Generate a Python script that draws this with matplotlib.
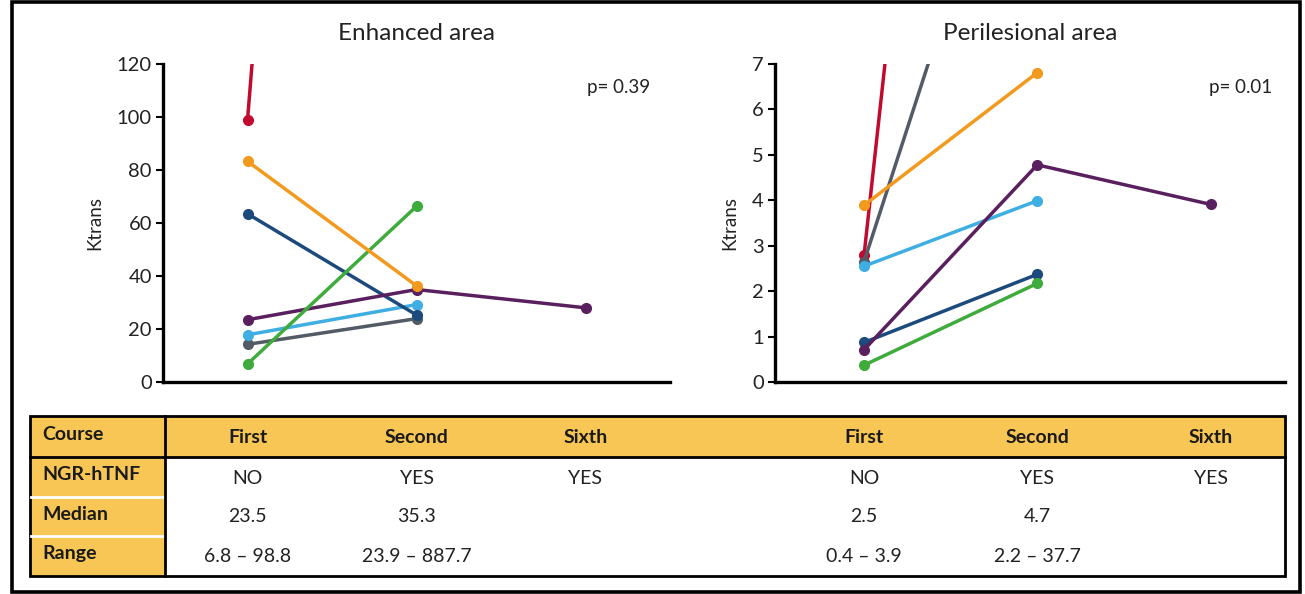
import matplotlib
matplotlib.use("Agg")
import matplotlib.pyplot as plt
import matplotlib.transforms as mtransforms
from matplotlib.patches import Rectangle
from matplotlib.lines import Line2D

plt.rcParams['font.family'] = ['Lato', 'DejaVu Sans']

# ---------------- data ----------------
courses = ["First", "Second", "Sixth"]
course_x = [1, 2, 3]

# Enhanced area (Ktrans)
enh_red = [98.8, 887.7]
enh_gray = [14.2, 23.9]
enh_lightblue = [17.8, 29.2]
enh_darkblue = [63.5, 25.3]
enh_purple = [23.5, 34.9, 28.0]
enh_green = [6.8, 66.3]
enh_orange = [83.3, 36.3]

# Perilesional area (Ktrans)
peri_red = [2.79, 37.7]
peri_gray = [2.65, 14.4]
peri_lightblue = [2.55, 3.99]
peri_darkblue = [0.87, 2.37]
peri_purple = [0.71, 4.78, 3.91]
peri_green = [0.37, 2.17]
peri_orange = [3.89, 6.81]

col_gray = "#535b66"
col_lightblue = "#3eaee3"
col_darkblue = "#1c4a7c"
col_purple = "#5a1f5e"
col_green = "#3fab3c"
col_orange = "#f29a1e"
col_red = "#c20a2e"

enh_ticks = [0, 20, 40, 60, 80, 100, 120]
peri_ticks = [0, 1, 2, 3, 4, 5, 6, 7]

row_labels = ["Course", "NGR-hTNF", "Median", "Range"]
ngr = ["NO", "YES", "YES"]
enh_median = ["23.5", "35.3", ""]
enh_range = ["6.8 \u2013 98.8", "23.9 \u2013 887.7", ""]
peri_median = ["2.5", "4.7", ""]
peri_range = ["0.4 \u2013 3.9", "2.2 \u2013 37.7", ""]

# ---------------- figure ----------------
W, H = 1305, 594
fig = plt.figure(figsize=(W / 100, H / 100), dpi=100)
fig.patch.set_facecolor("white")


def px_rect(x0, y0, x1, y1):
    return [x0 / W, 1 - y1 / H, (x1 - x0) / W, (y1 - y0) / H]


ax1 = fig.add_axes(px_rect(163, 64, 670, 382))
ax2 = fig.add_axes(px_rect(775, 64, 1285, 382))

enh_series = [(enh_red, col_red), (enh_gray, col_gray),
              (enh_lightblue, col_lightblue), (enh_darkblue, col_darkblue),
              (enh_purple, col_purple), (enh_green, col_green),
              (enh_orange, col_orange)]
peri_series = [(peri_red, col_red), (peri_gray, col_gray),
               (peri_lightblue, col_lightblue), (peri_darkblue, col_darkblue),
               (peri_purple, col_purple), (peri_green, col_green),
               (peri_orange, col_orange)]


def style_axis(ax, ticks, ylim, xlim, title, ptxt, px):
    ax.set_ylim(*ylim)
    ax.set_xlim(*xlim)
    ax.set_yticks(ticks)
    ax.set_xticks([])
    for s in ["top", "right"]:
        ax.spines[s].set_visible(False)
    for s in ["left", "bottom"]:
        ax.spines[s].set_linewidth(2.4)
        ax.spines[s].set_color("black")
    ax.tick_params(axis="y", direction="out", length=5, width=1.5,
                   labelsize=14.5, pad=3, labelcolor="#222222")
    ax.set_ylabel("Ktrans", fontsize=13.5, color="#222222", labelpad=10)
    ax.set_title(title, fontsize=17.5, color="#222222", pad=17)
    ax.text(px, 0.925, ptxt, transform=ax.transAxes, fontsize=13.5,
            ha="right", va="center", color="#222222")


for vals, c in enh_series:
    ax1.plot(course_x[:len(vals)], vals, color=c, lw=2.5, marker="o",
             ms=7, solid_capstyle="round")
for vals, c in peri_series:
    ax2.plot(course_x[:len(vals)], vals, color=c, lw=2.5, marker="o",
             ms=7, solid_capstyle="round")

style_axis(ax1, enh_ticks, (0, 120), (0.5, 3.5), "Enhanced area", "p= 0.39", 0.96)
style_axis(ax2, peri_ticks, (0, 7), (0.486, 3.43), "Perilesional area", "p= 0.01", 0.975)

# ---------------- overlay (table + border) ----------------
ov = fig.add_axes([0, 0, 1, 1], zorder=-1)
ov.set_xlim(0, W)
ov.set_ylim(H, 0)
ov.axis("off")

yellow = "#f8c655"
tx0, tx1 = 30, 1285
lab_x1 = 165
row_edges = [416, 457, 497, 536, 576]

ov.add_patch(Rectangle((tx0, row_edges[0]), tx1 - tx0, row_edges[1] - row_edges[0],
                       facecolor=yellow, edgecolor="none"))
ov.add_patch(Rectangle((tx0, row_edges[1]), lab_x1 - tx0, row_edges[4] - row_edges[1],
                       facecolor=yellow, edgecolor="none"))
for y in row_edges[2:4]:
    ov.add_line(Line2D([tx0 + 1, lab_x1 - 1], [y, y], color="white", lw=2))
ov.add_line(Line2D([tx0, tx1], [row_edges[1], row_edges[1]], color="black", lw=2))
ov.add_line(Line2D([lab_x1, lab_x1], [row_edges[0], row_edges[4]], color="black", lw=2))
ov.add_patch(Rectangle((tx0, row_edges[0]), tx1 - tx0, row_edges[4] - row_edges[0],
                       facecolor="none", edgecolor="black", lw=2))

ov.add_patch(Rectangle((12, 2), 1288, 590, facecolor="none", edgecolor="black", lw=2.6))

row_cy = [(row_edges[i] + row_edges[i + 1]) / 2 for i in range(4)]
for lab, cy in zip(row_labels, row_cy):
    ov.text(42, cy - 2, lab, fontsize=14, fontweight="bold", ha="left",
            va="center", color="#1a1a1a")

tr1 = mtransforms.blended_transform_factory(ax1.transData, ov.transData)
tr2 = mtransforms.blended_transform_factory(ax2.transData, ov.transData)

for tr, med, rng in [(tr1, enh_median, enh_range), (tr2, peri_median, peri_range)]:
    for i, x in enumerate(course_x):
        ov.text(x, row_cy[0] + 1, courses[i], transform=tr, fontsize=14,
                fontweight="bold", ha="center", va="center", color="#1a1a1a")
        ov.text(x, row_cy[1] + 1, ngr[i], transform=tr, fontsize=14,
                ha="center", va="center", color="#222222")
        ov.text(x, row_cy[2], med[i], transform=tr, fontsize=14,
                ha="center", va="center", color="#222222")
        ov.text(x, row_cy[3], rng[i], transform=tr, fontsize=14,
                ha="center", va="center", color="#222222")

fig.savefig("out.png", dpi=100, facecolor="white")
